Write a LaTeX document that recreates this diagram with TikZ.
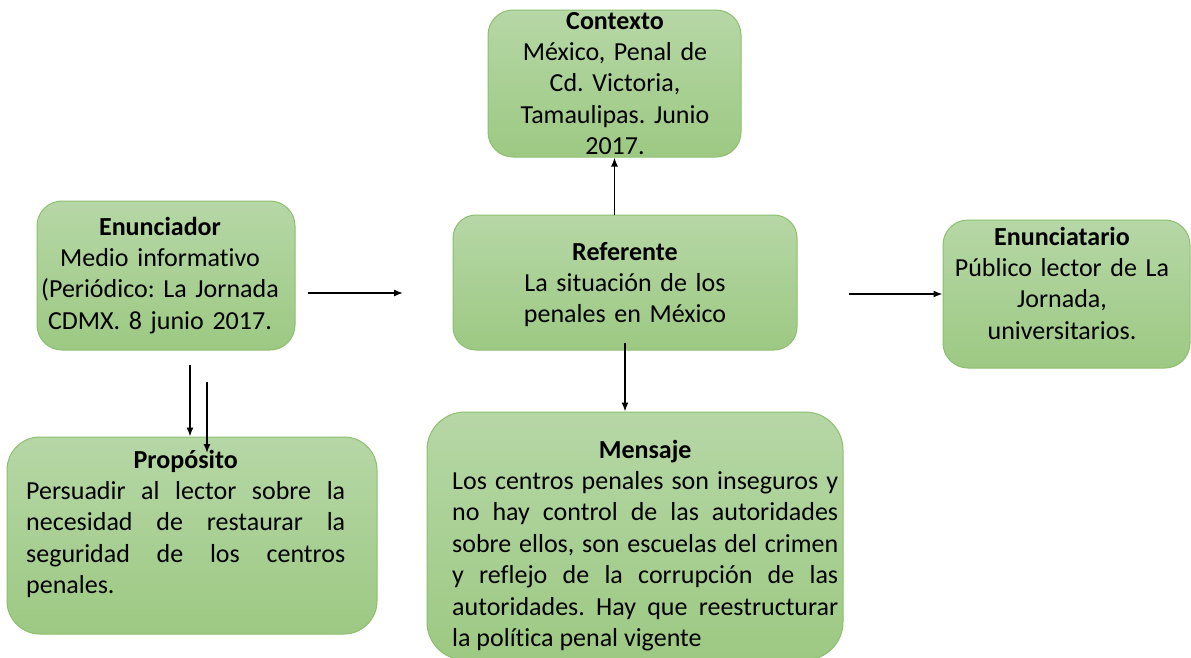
\documentclass[tikz,border=0pt]{standalone}
\usepackage{fontspec}
\setmainfont{Carlito}[Ligatures=NoCommon]
\frenchspacing
\usetikzlibrary{arrows.meta}
\definecolor{gtop}{RGB}{182,215,166}
\definecolor{gbot}{RGB}{157,201,131}
\definecolor{gline}{RGB}{140,191,110}
\tikzset{
  box/.style={draw=gline, line width=1pt, top color=gtop, bottom color=gbot,
    inner sep=0pt, rectangle},
  txt/.style={inner sep=0pt, font=\fontsize{26}{31.4}\selectfont\frenchspacing, anchor=base,
    text width=300pt, align=center},
  bodytxt/.style={inner sep=0pt, font=\fontsize{26}{31.4}\selectfont\frenchspacing, anchor=base west,
    align=justify},
  arr/.style={-{Latex[length=9pt,width=7pt]}, line width=1.4pt},
}
\begin{document}
\begin{tikzpicture}[x=1pt,y=-1pt]
\useasboundingbox (0,0) rectangle (1191,657);
% boxes
\node[box, rounded corners=25pt, minimum width=258pt, minimum height=149pt] (enun) at (166,275.5) {};
\node[box, rounded corners=25pt, minimum width=253pt, minimum height=147pt] (ctx) at (614.5,83.5) {};
\node[box, rounded corners=23pt, minimum width=344pt, minimum height=135pt] (refer) at (625,282.5) {};
\node[box, rounded corners=25pt, minimum width=247pt, minimum height=148pt] (enuncia) at (1066.5,294) {};
\node[box, rounded corners=33pt, minimum width=370pt, minimum height=197pt] (prop) at (192,535.5) {};
\node[box, rounded corners=38pt, minimum width=416pt, minimum height=248pt] (mens) at (635,536) {};
% texts
\node[txt] (enunT) at (160,235) {\textbf{Enunciador}\\Medio informativo\\(Periódico: La Jornada\\CDMX. 8 junio 2017.};
\node[txt] (ctxT) at (615,29) {\textbf{Contexto}\\México, Penal de\\Cd. Victoria,\\Tamaulipas. Junio\\2017.};
\node[txt] (referT) at (625,260) {\textbf{Referente}\\La situación de los\\penales en México};
\node[txt] (enunciaT) at (1062,245) {\textbf{Enunciatario}\\Público lector de La\\Jornada,\\universitarios.};
\node[bodytxt, text width=319pt] (propT) at (26,468) {{\centering\bfseries Propósito\par}Persuadir al lector sobre la\linebreak necesidad de restaurar la\linebreak seguridad de los centros\linebreak penales.};
\node[bodytxt, text width=386pt] (mensT) at (452,458) {{\centering\bfseries Mensaje\par}Los centros penales son inseguros y\linebreak no hay control de las autoridades\linebreak sobre ellos, son escuelas del crimen\linebreak y reflejo de la corrupción de las\linebreak autoridades. Hay que reestructurar\linebreak la política penal vigente};
% connectors
\coordinate (a1s) at (308,293);
\coordinate (a1e) at (403,293);
\draw[arr] (a1s) -- (a1e);
\coordinate (a2s) at (849,294);
\draw[arr] (a2s) -- (enuncia.west);
\draw[arr] (ctx.south |- refer.north) -- (ctx.south);
\draw[arr] ([yshift=8pt]refer.south) -- (refer.south |- mens.north);
\coordinate (a5s) at (190,365);
\draw[arr] (a5s) -- (a5s |- prop.north);
\coordinate (a6s) at (207,382);
\coordinate (a6e) at (207,453);
\draw[arr] (a6s) -- (a6e);
\end{tikzpicture}
\end{document}
